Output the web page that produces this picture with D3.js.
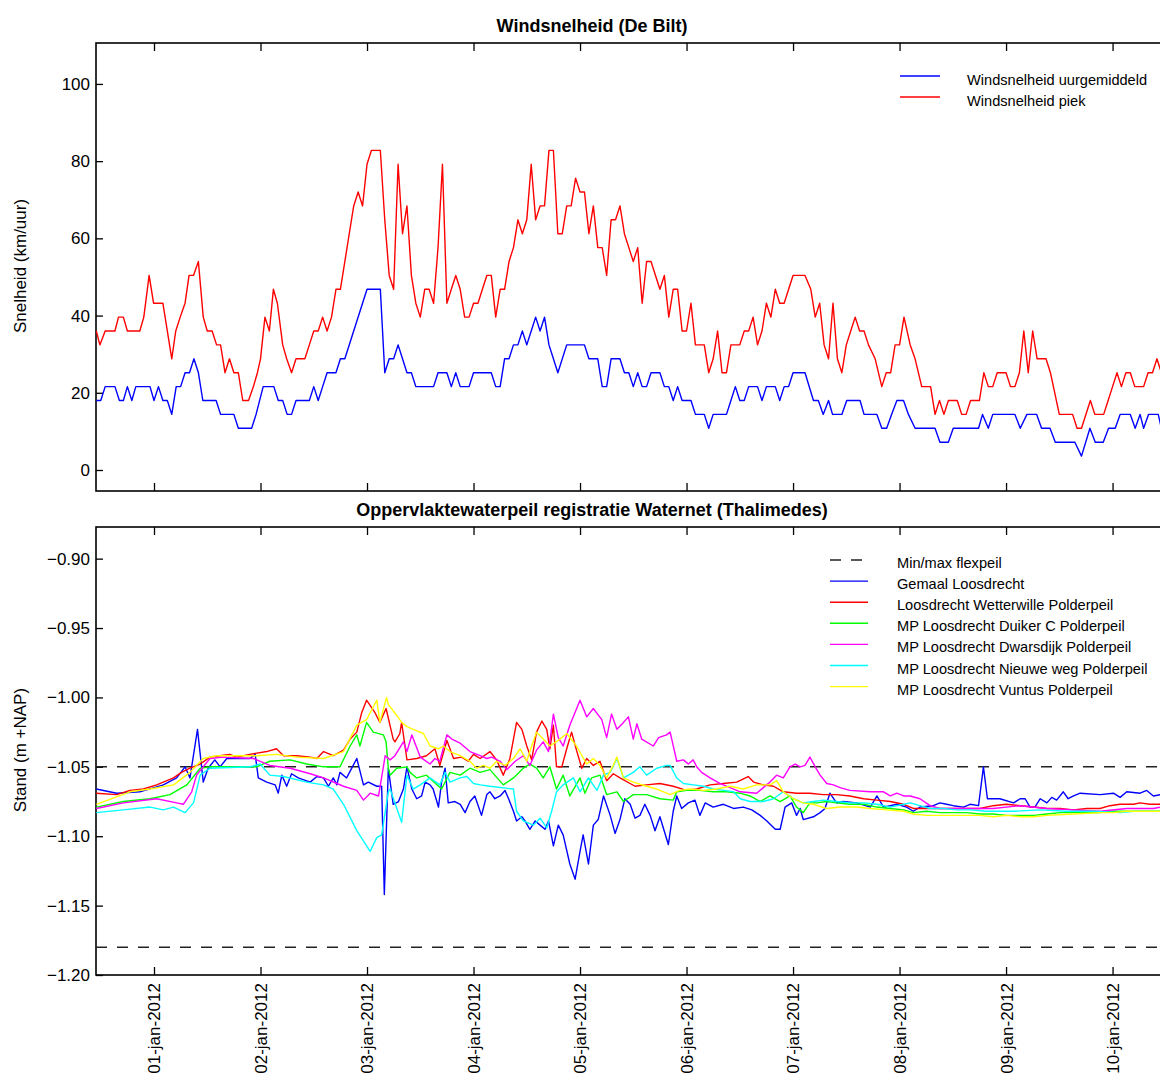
<!DOCTYPE html>
<html>
<head>
<meta charset="utf-8">
<script src="https://cdn.jsdelivr.net/npm/d3@7"></script>
<style>
  body { margin: 0; background: #fff; }
  text { font-family: "Liberation Sans", Arial, Helvetica, sans-serif; fill: #000; }
</style>
</head>
<body>
<svg id="chart" width="1160" height="1080"></svg>
<script>
// ---- data: time is hours after 01-jan-2012 00:00 ----
const dayTicks = ["2012-01-01","2012-01-02","2012-01-03","2012-01-04","2012-01-05",
                  "2012-01-06","2012-01-07","2012-01-08","2012-01-09","2012-01-10"];
const windTicks = [0, 20, 40, 60, 80, 100];
const levelTicks = [-1.20, -1.15, -1.10, -1.05, -1.00, -0.95, -0.90];

const windTitle = "Windsnelheid (De Bilt)";
const levelTitle = "Oppervlaktewaterpeil registratie Waternet (Thalimedes)";
const windLegend = ["Windsnelheid uurgemiddeld", "Windsnelheid piek"];
const levelLegend = ["Min/max flexpeil", "Gemaal Loosdrecht", "Loosdrecht Wetterwille Polderpeil",
  "MP Loosdrecht Duiker C Polderpeil", "MP Loosdrecht Dwarsdijk Polderpeil",
  "MP Loosdrecht Nieuwe weg Polderpeil", "MP Loosdrecht Vuntus Polderpeil"];

// wind speed, km/uur: [hour, value]
const windMean = [[-13,18],[-12,18],[-11,21.6],[-8.8,21.6],[-7.8,18],[-6.9,18],[-6,21.6],[-5,18],[-4.1,21.6],[-0.9,21.6],[0,18],[1,21.6],[2,18],[3,18],[4,14.4],[5,21.6],[6,21.6],[7,25.2],[8,25.2],[9,28.8],[10,25.2],[11,18],[14,18],[15,14.4],[18,14.4],[19,10.8],[22,10.8],[23,14.4],[24.6,21.6],[27,21.6],[28,18],[29,18],[30,14.4],[31,14.4],[32,18],[35,18],[36,21.6],[37,18],[38,21.6],[39,25.2],[41,25.2],[42,28.8],[43,28.8],[48,46.8],[51,46.8],[52,25.2],[53,28.8],[54,28.8],[55,32.4],[56,28.8],[57,25.2],[58,25.2],[59,21.6],[63,21.6],[64,25.2],[66,25.2],[67,21.6],[68,25.2],[69,21.6],[71,21.6],[72,25.2],[76,25.2],[77,21.6],[78,21.6],[79,28.8],[80,28.8],[81,32.4],[82,32.4],[83,36],[84,32.4],[85,36],[86,39.6],[87,36],[88,39.6],[89,32.4],[90,28.8],[91,25.2],[93,32.4],[97,32.4],[98,28.8],[100,28.8],[101,21.6],[102,21.6],[103,28.8],[105,28.8],[106,25.2],[107,25.2],[108,21.6],[109,25.2],[110,21.6],[111,21.6],[112,25.2],[114,25.2],[115,21.6],[116,21.6],[117,18],[118,21.6],[119,18],[121,18],[122,14.4],[124,14.4],[125,10.8],[126,14.4],[129,14.4],[130,18],[131,21.6],[132,18],[133,18],[134,21.6],[136,21.6],[137,18],[138,21.6],[140,21.6],[141,18],[142,21.6],[143,21.6],[144,25.2],[146.7,25.2],[148.6,18],[149.7,18],[150.8,14.4],[152,18],[152.9,14.4],[155,14.4],[156.1,18],[159.1,18],[160,14.4],[162.9,14.4],[164,10.8],[165.1,10.8],[166.2,14.4],[167.4,18],[168.9,18],[170,14.4],[171.5,10.8],[176,10.8],[177.1,7.2],[179,7.2],[180.1,10.8],[185.8,10.8],[186.7,14.4],[188,10.8],[189,14.4],[194,14.4],[195.2,10.8],[196.7,14.4],[198.9,14.4],[200,10.8],[201.9,10.8],[203.1,7.2],[207.5,7.2],[209,3.6],[210.9,10.8],[212.1,7.2],[213.9,7.2],[215.1,10.8],[216.6,10.8],[217.7,14.4],[220,14.4],[221.1,10.8],[222.2,14.4],[223,10.8],[224.1,14.4],[226.3,14.4],[227,10.8]];

const windPeak = [[-13,36],[-12.2,32.4],[-11,36],[-8.8,36],[-8,39.6],[-6.9,39.6],[-6,36],[-3.2,36],[-2.3,39.6],[-1.1,50.4],[-0.1,43.2],[2,43.2],[4,28.8],[4.9,36],[5.9,39.6],[7,43.2],[7.9,50.4],[8.9,50.4],[10,54],[11.1,39.6],[12,36],[13.1,36],[14.1,32.4],[15,32.4],[16,25.2],[17,28.8],[18,25.2],[19,25.2],[20,18],[21.3,18],[22.4,21.6],[23.3,25.2],[24,28.8],[25,39.6],[26,36],[26.9,46.8],[27.8,43.2],[29,32.4],[29.9,28.8],[31,25.2],[32,28.8],[34,28.8],[35,32.4],[36,36],[37,36],[38,39.6],[39,36],[40,39.6],[41,46.8],[42,46.8],[43,54],[44,61.2],[45,68.4],[46,72],[47,68.4],[48,79.2],[49,82.8],[51,82.8],[52,64.8],[53,50.4],[54,46.8],[55,79.2],[56,61.2],[57,68.4],[58,50.4],[59,43.2],[60,39.6],[61,46.8],[62,46.8],[63,43.2],[64,57.6],[65,79.2],[66,43.2],[67,46.8],[68,50.4],[69,46.8],[70,39.6],[71,39.6],[72,43.2],[73,43.2],[74,46.8],[75,50.4],[76,50.4],[77,39.6],[78,46.8],[79,46.8],[80,54],[81,57.6],[82,64.8],[83,61.2],[84,64.8],[85,79.2],[86,64.8],[87,68.4],[88,68.4],[89,82.8],[90,82.8],[91,61.2],[92,61.2],[93,68.4],[94,68.4],[95,75.6],[96,72],[97,72],[98,61.2],[99,68.4],[100,57.6],[101,57.6],[102,50.4],[103,64.8],[104,64.8],[105,68.4],[106,61.2],[107,57.6],[108,54],[109,57.6],[110,43.2],[111,54],[112,54],[113,50.4],[114,46.8],[115,50.4],[116,39.6],[117,46.8],[118,46.8],[119,36],[120,36],[121,43.2],[122,32.4],[124,32.4],[125,25.2],[126,28.8],[127,36],[128,25.2],[129,25.2],[130,32.4],[132,32.4],[133,36],[134,36],[135,39.6],[136,32.4],[137,36],[138,43.2],[139,39.6],[140,46.8],[141,43.2],[142,43.2],[143,46.8],[144,50.4],[146.7,50.4],[148,46.8],[149,39.6],[150,43.2],[151,32.4],[152,28.8],[153,43.2],[154,28.8],[155,25.2],[156,32.4],[157,36],[158,39.6],[159,36],[160,36],[161,32.4],[162.5,28.8],[164,21.6],[165,25.2],[166,25.2],[167,32.4],[168,32.4],[169,39.6],[170.4,32.4],[171.5,28.8],[173,21.6],[175,21.6],[176,14.4],[177,18],[178,14.4],[179,18],[181,18],[182,14.4],[183,14.4],[184,18],[186,18],[187,25.2],[188,21.6],[189,21.6],[190,25.2],[192,25.2],[193,21.6],[194,21.6],[195,25.2],[196,36],[197,25.2],[198,36],[199,28.8],[201,28.8],[202,25.2],[204,14.4],[207,14.4],[208,10.8],[209,10.8],[211,18],[212,14.4],[214,14.4],[215,18],[216,21.6],[217,25.2],[218,21.6],[219,25.2],[220,25.2],[221,21.6],[223,21.6],[224,25.2],[225,25.2],[226,28.8],[227,25.2]];

// water level, m +NAP: [hour, value]
const flexpeil = [-1.18, -1.05];

const gemaal = [[-13,-1.066],[-8.4,-1.069],[-3.2,-1.068],[2.1,-1.063],[5.1,-1.058],[7,-1.05],[8.1,-1.058],[9.8,-1.023],[11.1,-1.061],[12.2,-1.051],[13.7,-1.045],[14.9,-1.05],[16.4,-1.044],[21.6,-1.044],[22.8,-1.041],[23.5,-1.058],[25.4,-1.061],[27.3,-1.063],[28,-1.069],[28.8,-1.056],[29.9,-1.064],[31,-1.055],[32.5,-1.058],[35.2,-1.061],[36.7,-1.057],[38.2,-1.058],[39.3,-1.064],[40.4,-1.058],[41.2,-1.063],[41.9,-1.054],[43.4,-1.058],[45.7,-1.044],[47.2,-1.063],[48.3,-1.061],[50.2,-1.064],[51.3,-1.064],[51.9,-1.142],[52.8,-1.051],[53.9,-1.077],[55.1,-1.075],[56.2,-1.066],[57,-1.05],[58.1,-1.066],[59.2,-1.073],[60.3,-1.071],[61.1,-1.061],[62.2,-1.063],[62.9,-1.066],[64.1,-1.079],[64.8,-1.061],[65.6,-1.051],[66.3,-1.076],[67.8,-1.075],[69,-1.077],[70.1,-1.083],[71.2,-1.075],[72.3,-1.071],[73.8,-1.085],[75,-1.07],[75.7,-1.068],[76.8,-1.073],[78,-1.071],[79.1,-1.067],[79.9,-1.073],[81,-1.082],[81.7,-1.089],[82.9,-1.086],[83.6,-1.089],[84.7,-1.095],[85.9,-1.089],[87,-1.092],[88.1,-1.095],[88.9,-1.089],[90,-1.107],[91.1,-1.092],[92.2,-1.099],[93.7,-1.12],[94.9,-1.131],[96,-1.111],[96.7,-1.099],[97.9,-1.12],[99,-1.092],[100.1,-1.088],[101.3,-1.071],[102.8,-1.085],[103.9,-1.098],[105,-1.088],[106.1,-1.073],[107.3,-1.077],[108.4,-1.087],[109.5,-1.085],[110.6,-1.077],[111.8,-1.085],[112.9,-1.096],[114,-1.086],[115.9,-1.106],[117,-1.082],[117.8,-1.071],[118.9,-1.08],[120.4,-1.076],[121.9,-1.074],[123,-1.085],[124.2,-1.076],[126,-1.079],[128.3,-1.077],[130.6,-1.08],[132.8,-1.079],[134.7,-1.081],[136.6,-1.085],[138.1,-1.089],[140,-1.095],[141.1,-1.095],[142.2,-1.079],[143.7,-1.076],[144.8,-1.085],[145.6,-1.08],[146.3,-1.088],[148.6,-1.086],[150.1,-1.083],[151.2,-1.08],[152.3,-1.069],[153.8,-1.076],[155.3,-1.075],[158.3,-1.076],[161.4,-1.079],[162.9,-1.071],[164.4,-1.079],[167.4,-1.077],[169.6,-1.079],[171.1,-1.082],[172.6,-1.079],[175.6,-1.078],[177.1,-1.076],[178.6,-1.077],[180.1,-1.078],[182.4,-1.079],[183.9,-1.077],[185.8,-1.078],[186.9,-1.05],[187.8,-1.073],[190.6,-1.073],[193.7,-1.076],[195.2,-1.073],[196.3,-1.073],[197.4,-1.079],[198.5,-1.079],[199.7,-1.073],[201.2,-1.076],[202.3,-1.072],[203.4,-1.074],[204.9,-1.068],[206,-1.073],[207.2,-1.071],[208.7,-1.069],[213.2,-1.07],[216.2,-1.069],[217.7,-1.072],[219.2,-1.068],[222.2,-1.069],[223.7,-1.067],[225.2,-1.071],[227,-1.07]];

const wetterwille = [[-13,-1.069],[-8.4,-1.07],[-5.4,-1.067],[-2.4,-1.066],[0.6,-1.063],[4.4,-1.058],[6.2,-1.054],[8.1,-1.051],[10.4,-1.048],[12.6,-1.043],[14.9,-1.042],[17.1,-1.041],[18.6,-1.043],[21.6,-1.041],[25.4,-1.039],[27.6,-1.037],[29.2,-1.042],[32.2,-1.042],[35.2,-1.043],[36.7,-1.044],[38.2,-1.039],[40.4,-1.042],[42.7,-1.038],[44.2,-1.03],[45.7,-1.025],[46.8,-1.011],[47.9,-1.002],[49.8,-1.011],[50.9,-1.018],[52.3,-1.008],[53.9,-1.03],[54.3,-1.032],[55.4,-1.026],[55.8,-1.018],[57,-1.045],[59.2,-1.044],[61.4,-1.042],[63.3,-1.037],[64.4,-1.049],[66,-1.031],[67.5,-1.044],[69.3,-1.043],[70.8,-1.046],[72,-1.041],[73.5,-1.044],[75.7,-1.039],[77.2,-1.045],[78.7,-1.056],[80.2,-1.044],[81.7,-1.018],[82.9,-1.023],[84,-1.035],[85.1,-1.045],[86.2,-1.025],[87.4,-1.017],[88.5,-1.023],[89.2,-1.037],[90,-1.02],[90.7,-1.05],[91.9,-1.05],[93,-1.037],[94.1,-1.025],[95.2,-1.038],[96.4,-1.051],[97.5,-1.044],[99,-1.049],[100.5,-1.046],[102,-1.06],[103.5,-1.055],[105,-1.058],[108.4,-1.064],[111,-1.063],[114,-1.062],[117,-1.064],[120,-1.067],[122.3,-1.066],[125.3,-1.063],[128.3,-1.062],[131.3,-1.061],[133.9,-1.057],[135.1,-1.061],[137.3,-1.063],[139.6,-1.064],[141.8,-1.068],[144.8,-1.069],[147.8,-1.069],[150.8,-1.07],[153.8,-1.07],[156.8,-1.071],[159.9,-1.073],[162.9,-1.074],[165.9,-1.075],[168.9,-1.077],[171.1,-1.08],[177.1,-1.08],[183.1,-1.08],[186.1,-1.08],[189.1,-1.078],[192.1,-1.077],[195.2,-1.078],[198.2,-1.079],[201.2,-1.08],[204.2,-1.08],[207.2,-1.081],[210.2,-1.08],[213.2,-1.08],[215.4,-1.078],[217.7,-1.077],[220.7,-1.077],[222.2,-1.076],[224.4,-1.077],[227,-1.077]];

const duikerC = [[-13,-1.079],[-6.9,-1.075],[-0.9,-1.073],[3.6,-1.07],[7.4,-1.063],[10.4,-1.051],[12.6,-1.05],[23.1,-1.05],[26.1,-1.046],[30.7,-1.045],[34.4,-1.048],[38.2,-1.05],[41.9,-1.05],[44.2,-1.035],[45.7,-1.027],[46.4,-1.035],[47.9,-1.018],[49.4,-1.025],[51.7,-1.027],[52.3,-1.032],[52.8,-1.051],[53.2,-1.056],[54.7,-1.051],[57,-1.05],[57.7,-1.054],[59.2,-1.058],[61.4,-1.056],[64.8,-1.066],[66.7,-1.054],[69,-1.056],[71.2,-1.051],[73.5,-1.054],[75.7,-1.052],[78.7,-1.063],[81,-1.058],[83.2,-1.051],[84.7,-1.048],[86.2,-1.051],[87.7,-1.058],[89.2,-1.05],[90.7,-1.066],[92.2,-1.056],[93.7,-1.071],[96,-1.058],[97.1,-1.069],[98.6,-1.058],[100.5,-1.056],[102,-1.07],[104.3,-1.068],[105.8,-1.075],[108,-1.07],[111,-1.07],[114,-1.073],[117,-1.074],[117.8,-1.068],[120,-1.067],[123,-1.067],[126,-1.068],[129,-1.068],[132.1,-1.069],[134.3,-1.071],[136.6,-1.075],[138.8,-1.071],[141.1,-1.075],[143.3,-1.071],[144.8,-1.079],[146.3,-1.083],[147.8,-1.076],[149.3,-1.076],[151.6,-1.075],[153.8,-1.076],[156.8,-1.077],[159.9,-1.077],[162.9,-1.079],[165.9,-1.08],[168.9,-1.081],[171.1,-1.083],[174.1,-1.082],[177.1,-1.083],[180.1,-1.083],[183.1,-1.083],[186.1,-1.084],[189.1,-1.084],[192.1,-1.085],[195.2,-1.085],[198.2,-1.085],[201.2,-1.084],[204.2,-1.083],[207.2,-1.083],[210.2,-1.083],[213.2,-1.083],[216.2,-1.082],[219.2,-1.082],[227,-1.082]];

const dwarsdijk = [[-13,-1.08],[-6.9,-1.076],[0.6,-1.073],[5.1,-1.076],[6.6,-1.077],[8.5,-1.068],[9.6,-1.056],[12.6,-1.044],[15.6,-1.043],[22.4,-1.044],[26.1,-1.049],[30.7,-1.051],[35.2,-1.055],[38.2,-1.058],[42.7,-1.064],[45.7,-1.067],[47.2,-1.074],[48.7,-1.069],[50.6,-1.071],[52.1,-1.042],[53.2,-1.045],[54.3,-1.042],[56.2,-1.032],[57,-1.039],[58.1,-1.027],[60,-1.043],[62.2,-1.048],[63.3,-1.044],[64.4,-1.046],[66,-1.027],[67.1,-1.03],[69,-1.033],[71.2,-1.039],[73.5,-1.042],[75,-1.044],[76.1,-1.043],[78,-1.046],[79.5,-1.052],[81.4,-1.046],[83.2,-1.042],[84.7,-1.049],[86.2,-1.038],[87.7,-1.032],[88.9,-1.039],[90,-1.012],[91.1,-1.029],[92.2,-1.035],[93.7,-1.02],[96,-1.002],[97.5,-1.014],[99,-1.008],[100.9,-1.016],[102,-1.029],[103.1,-1.012],[104.3,-1.023],[105.8,-1.018],[106.9,-1.014],[108,-1.03],[108.8,-1.019],[109.9,-1.03],[112.5,-1.035],[113.7,-1.029],[115.5,-1.027],[116.3,-1.025],[117.8,-1.046],[119.3,-1.045],[120.4,-1.048],[121.5,-1.045],[122.3,-1.05],[123.4,-1.054],[125.3,-1.058],[127.5,-1.062],[129.8,-1.065],[132.1,-1.068],[135.8,-1.069],[137.3,-1.065],[138.8,-1.061],[140.3,-1.056],[141.8,-1.058],[143.3,-1.05],[144.5,-1.048],[145.6,-1.05],[146.7,-1.049],[147.8,-1.043],[149,-1.05],[150.1,-1.056],[151.6,-1.062],[153.1,-1.063],[154.6,-1.065],[156.8,-1.067],[161.4,-1.068],[164.4,-1.068],[165.9,-1.071],[167.4,-1.069],[168.9,-1.071],[170.4,-1.071],[172.6,-1.073],[174.9,-1.078],[177.1,-1.08],[183.1,-1.08],[189.1,-1.08],[195.2,-1.078],[201.2,-1.08],[207.2,-1.081],[213.2,-1.082],[219.2,-1.08],[225.2,-1.08],[227,-1.079]];

const nieuweWeg = [[-13,-1.083],[-6.9,-1.081],[-0.9,-1.079],[2.1,-1.081],[4.4,-1.079],[7,-1.083],[8.9,-1.076],[10.4,-1.056],[12.6,-1.051],[21.6,-1.05],[23.9,-1.048],[26.1,-1.056],[29.2,-1.057],[34.4,-1.061],[38.2,-1.063],[40.4,-1.066],[42.7,-1.077],[45.7,-1.096],[48.7,-1.111],[50.2,-1.101],[51.3,-1.099],[52.8,-1.068],[53.2,-1.066],[55.8,-1.09],[57,-1.056],[58.4,-1.066],[60,-1.063],[62.2,-1.058],[64.4,-1.063],[65.6,-1.054],[66.7,-1.061],[69,-1.058],[70.5,-1.057],[72,-1.062],[73.5,-1.063],[75.7,-1.064],[81,-1.066],[81.7,-1.082],[83.2,-1.089],[85.5,-1.092],[87,-1.087],[88.5,-1.094],[89.6,-1.082],[90.7,-1.068],[92.2,-1.063],[94.5,-1.058],[96,-1.068],[97.9,-1.058],[99.8,-1.067],[101.3,-1.056],[102.8,-1.054],[104.3,-1.044],[105.8,-1.058],[108,-1.054],[109.5,-1.05],[111,-1.056],[113.3,-1.051],[115.5,-1.049],[116.3,-1.049],[117.8,-1.058],[119.3,-1.062],[121.5,-1.063],[123.8,-1.064],[126,-1.066],[128.3,-1.067],[130.6,-1.068],[132.1,-1.073],[134.3,-1.075],[137.3,-1.075],[139.6,-1.073],[141.8,-1.068],[144.1,-1.073],[146.3,-1.076],[148.6,-1.075],[150.8,-1.074],[153.8,-1.075],[156.8,-1.076],[159.9,-1.076],[162.9,-1.077],[165.9,-1.079],[168.9,-1.077],[170.4,-1.076],[172.6,-1.078],[174.9,-1.08],[177.9,-1.08],[180.9,-1.081],[183.9,-1.081],[187.6,-1.082],[193.7,-1.082],[199.7,-1.081],[205.7,-1.082],[211.7,-1.082],[217.7,-1.083],[220.7,-1.082],[223.7,-1.082],[227,-1.082]];

const vuntus = [[-13,-1.077],[-5.4,-1.068],[-0.9,-1.066],[4.4,-1.063],[8.1,-1.054],[11.1,-1.044],[14.1,-1.042],[23.1,-1.042],[27.6,-1.041],[32.2,-1.043],[38.2,-1.044],[42.7,-1.039],[45.7,-1.02],[47.9,-1.016],[50.2,-1.002],[50.9,-1.018],[52.4,-1.0],[52.8,-1.005],[54.7,-1.013],[55.8,-1.018],[57,-1.021],[58.4,-1.023],[60.7,-1.026],[62.2,-1.035],[64.1,-1.037],[65.2,-1.035],[66.7,-1.039],[69,-1.042],[71.2,-1.046],[72.7,-1.051],[74.2,-1.049],[75.7,-1.051],[77.2,-1.046],[79.1,-1.049],[81,-1.044],[82.5,-1.037],[84,-1.046],[85.1,-1.035],[86.2,-1.025],[87.7,-1.03],[89.2,-1.035],[91.5,-1.03],[93,-1.026],[95.2,-1.035],[97.5,-1.048],[99,-1.044],[100.5,-1.049],[102,-1.058],[103.5,-1.049],[104.3,-1.043],[105.8,-1.058],[108,-1.061],[111,-1.064],[113.3,-1.066],[116.3,-1.07],[118.5,-1.067],[120.8,-1.066],[123.8,-1.067],[126.8,-1.066],[129.8,-1.064],[132.8,-1.066],[135.8,-1.063],[138.8,-1.063],[140.3,-1.06],[141.8,-1.068],[144.1,-1.073],[146.3,-1.076],[148.6,-1.077],[151.6,-1.08],[154.6,-1.079],[158.3,-1.079],[161.4,-1.08],[165.1,-1.081],[168.9,-1.082],[171.1,-1.084],[174.1,-1.085],[180.1,-1.085],[186.1,-1.085],[189.1,-1.086],[192.1,-1.085],[195.2,-1.086],[198.2,-1.086],[201.2,-1.085],[207.2,-1.084],[213.2,-1.083],[216.2,-1.083],[219.2,-1.082],[227,-1.082]];

const windSeries = [windMean, windPeak];
const windColors = ["#0000ff", "#ff0000"];
const levelSeries = [gemaal, wetterwille, duikerC, dwarsdijk, nieuweWeg, vuntus];
const levelColors = ["#0000ff", "#ff0000", "#00ff00", "#ff00ff", "#00ffff", "#ffff00"];

// ---- layout ----
const svg = d3.select("#chart");
const W = 1160, H = 1080;
svg.append("rect").attr("width", W).attr("height", H).attr("fill", "#fff");

const T0 = Date.UTC(2012, 0, 1);
const toDate = h => new Date(T0 + h * 3600e3);
const left = 96, right = 1161.6;
const x = d3.scaleUtc().domain([toDate(-13.07), toDate(227.05)]).range([left, right]);
const dayDates = dayTicks.map(s => new Date(s + "T00:00:00Z"));
const fmtDay = d => d3.utcFormat("%d-%b-%Y")(d).toLowerCase();

const panels = [
  { top: 43, bottom: 491, domain: [-5.44, 110.6], ticks: windTicks, fmt: d3.format("d"),
    title: windTitle, titleY: 32, ylabel: "Snelheid (km/uur)", ylabelY: 266, id: "wind" },
  { top: 527, bottom: 975, domain: [-1.2, -0.8772], ticks: levelTicks, fmt: d3.format(".2f"),
    title: levelTitle, titleY: 516, ylabel: "Stand (m +NAP)", ylabelY: 750, id: "level" }
];

panels.forEach(p => {
  p.y = d3.scaleLinear().domain(p.domain).range([p.bottom, p.top]);
  const g = svg.append("g");

  svg.append("clipPath").attr("id", "clip-" + p.id)
    .append("rect").attr("x", left).attr("y", p.top)
    .attr("width", right - left).attr("height", p.bottom - p.top);
  p.plot = svg.append("g").attr("clip-path", `url(#clip-${p.id})`);

  // left axis, ticks pointing inwards
  const ya = g.append("g").attr("transform", `translate(${left},0)`)
    .call(d3.axisLeft(p.y).tickValues(p.ticks).tickFormat(p.fmt).tickSize(-7).tickPadding(6));
  ya.select(".domain").remove();
  ya.selectAll(".tick line").attr("stroke", "#000").attr("stroke-width", 1.3);
  ya.selectAll(".tick text").attr("font-size", 17).attr("fill", "#000");

  // top and bottom day ticks
  const xt = g.append("g").attr("transform", `translate(0,${p.top})`)
    .call(d3.axisTop(x).tickValues(dayDates).tickSize(-8).tickFormat(""));
  xt.select(".domain").remove();
  xt.selectAll(".tick line").attr("stroke", "#000").attr("stroke-width", 1.3);

  const xb = g.append("g").attr("transform", `translate(0,${p.bottom})`)
    .call(d3.axisBottom(x).tickValues(dayDates).tickSize(-8)
      .tickFormat(p.id === "level" ? fmtDay : ""));
  xb.select(".domain").remove();
  xb.selectAll(".tick line").attr("stroke", "#000").attr("stroke-width", 1.3);
  if (p.id === "level") {
    xb.selectAll(".tick text")
      .attr("font-size", 17).attr("fill", "#000")
      .attr("transform", "rotate(-90)")
      .attr("x", -8).attr("y", 0).attr("dy", "0.35em")
      .style("text-anchor", "end");
  }

  // frame
  g.append("rect").attr("x", left).attr("y", p.top)
    .attr("width", right - left).attr("height", p.bottom - p.top)
    .attr("fill", "none").attr("stroke", "#000").attr("stroke-width", 1.6);

  // title and y label
  svg.append("text").attr("x", 592).attr("y", p.titleY)
    .attr("text-anchor", "middle").attr("font-size", 18).attr("font-weight", "bold")
    .text(p.title);
  svg.append("text").attr("transform", `translate(26,${p.ylabelY}) rotate(-90)`)
    .attr("text-anchor", "middle").attr("font-size", 17).text(p.ylabel);
});

const [windP, levelP] = panels;

// wind lines
const windLine = d3.line().x(d => x(toDate(d[0]))).y(d => windP.y(d[1]));
windSeries.forEach((s, i) => {
  windP.plot.append("path").datum(s).attr("d", windLine)
    .attr("fill", "none").attr("stroke", windColors[i]).attr("stroke-width", 1.4)
    .attr("stroke-linejoin", "round");
});

// flexpeil bounds
levelP.plot.selectAll("line.flex").data(flexpeil).join("line")
  .attr("class", "flex")
  .attr("x1", left).attr("x2", right)
  .attr("y1", d => levelP.y(d)).attr("y2", d => levelP.y(d))
  .attr("stroke", "#222").attr("stroke-width", 1.4).attr("stroke-dasharray", "11,10");

// water level lines
const levelLine = d3.line().x(d => x(toDate(d[0]))).y(d => levelP.y(d[1]));
levelSeries.forEach((s, i) => {
  levelP.plot.append("path").datum(s).attr("d", levelLine)
    .attr("fill", "none").attr("stroke", levelColors[i]).attr("stroke-width", 1.4)
    .attr("stroke-linejoin", "round");
});

// legends
const wl = svg.append("g");
windLegend.forEach((name, i) => {
  const ly = 76 + i * 21;
  wl.append("line").attr("x1", 900).attr("x2", 940).attr("y1", ly).attr("y2", ly)
    .attr("stroke", windColors[i]).attr("stroke-width", 1.4);
  wl.append("text").attr("x", 967).attr("y", ly + 8.5).attr("font-size", 14.6).text(name);
});

const ll = svg.append("g");
levelLegend.forEach((name, i) => {
  const ly = 560 + i * 21.1;
  const ln = ll.append("line").attr("x1", 830).attr("x2", 868).attr("y1", ly).attr("y2", ly)
    .attr("stroke-width", 1.4);
  if (i === 0) ln.attr("stroke", "#222").attr("stroke-dasharray", "11,10");
  else ln.attr("stroke", levelColors[i - 1]);
  ll.append("text").attr("x", 897).attr("y", ly + 8).attr("font-size", 14.6).text(name);
});
</script>
</body>
</html>
